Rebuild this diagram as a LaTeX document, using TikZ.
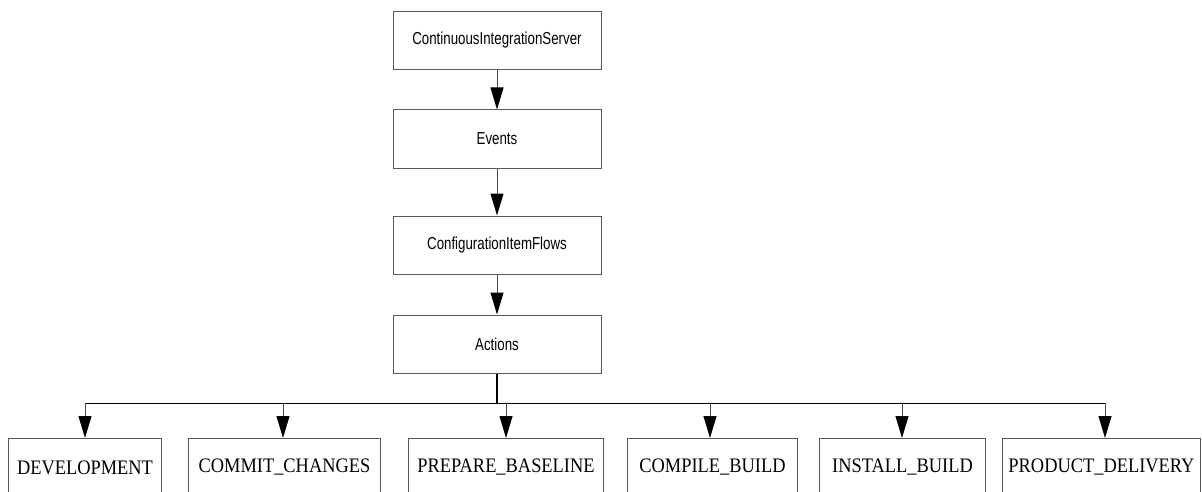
\documentclass[tikz,border=0pt]{standalone}
\usepackage{fontspec}
\setmainfont{Liberation Serif}
\setsansfont{Liberation Sans}
\usetikzlibrary{arrows.meta}
\newcommand{\tallsans}[1]{\scalebox{1}[1.3]{#1}}
\newcommand{\tallserif}[1]{\scalebox{1}[1.12]{#1}\hspace{6pt}}
\begin{document}
\begin{tikzpicture}[x=1pt,y=-1pt,
  topbox/.style={draw=black!65,line width=1pt,minimum width=208pt,minimum height=58pt,inner sep=0pt,font=\sffamily\fontsize{13.3}{15}\selectfont},
  leafbox/.style={draw=black!65,line width=1pt,minimum height=58pt,inner sep=0pt,font=\fontsize{18.4}{22}\selectfont},
  flow/.style={draw=black!70,line width=1pt,-{Triangle[length=22pt,width=13pt,black]}},
  bus/.style={draw=black,line width=2pt}]
\useasboundingbox (0,0) rectangle (1202,492);
\clip (0,0) rectangle (1202,492);
% spine of the hierarchy
\node[topbox] (ci)  at (497,40.5)  {\tallsans{ContinuousIntegrationServer}};
\node[topbox] (ev)  at (497,139)   {\tallsans{Events}};
\node[topbox] (cif) at (497,245)   {\tallsans{ConfigurationItemFlows}};
\node[topbox] (act) at (497,344)   {\tallsans{Actions}};
\draw[flow] (ci) -- (ev);
\draw[flow] (ev) -- (cif);
\draw[flow] (cif) -- (act);
% leaf actions, cut by the lower edge
\node[leafbox,minimum width=153pt,anchor=north west] (dev) at (8,438)    {\tallserif{DEVELOPMENT}};
\node[leafbox,minimum width=192pt,anchor=north west] (com) at (188,438)  {\tallserif{COMMIT\_CHANGES}};
\node[leafbox,minimum width=195pt,anchor=north west] (pre) at (408,438)  {\tallserif{PREPARE\_BASELINE}};
\node[leafbox,minimum width=170pt,anchor=north west] (cmp) at (627,438)  {\tallserif{COMPILE\_BUILD}};
\node[leafbox,minimum width=166pt,anchor=north west] (ins) at (819,438)  {\tallserif{INSTALL\_BUILD}};
\node[leafbox,minimum width=198pt,anchor=north west] (prd) at (1002,438) {\tallserif{PRODUCT\_DELIVERY}};
% distribution bus
\coordinate (hub) at (497,403);
\coordinate (bl) at (85,403);
\coordinate (br) at (1105,403);
\draw[bus] (act.south) -- (hub);
\draw[draw=black,line width=1pt] (bl) -- (br);
\draw[flow] (bl) -- (bl |- dev.north);
\draw[flow] (283,403) -- (283,438);
\draw[flow] (506,403) -- (506,438);
\draw[flow] (710,403) -- (710,438);
\draw[flow] (902,403) -- (902,438);
\draw[flow] (br) -- (br |- prd.north);
\end{tikzpicture}
\end{document}
